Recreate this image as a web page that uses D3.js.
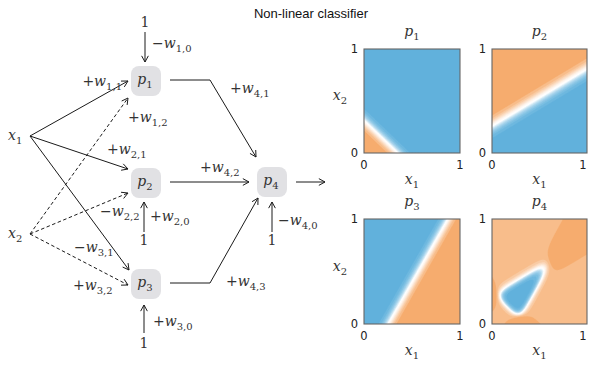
<!DOCTYPE html>
<html>
<head>
<meta charset="utf-8">
<script src="https://cdn.jsdelivr.net/npm/d3@7"></script>
<style>
  html, body { margin: 0; padding: 0; background: #fff; }
  svg { display: block; }
</style>
</head>
<body>
<svg id="chart" width="589" height="366"></svg>
<script>
// Network weights: [bias, x1, x2] for hidden units, [bias, p1, p2, p3] for the output unit
const w1 = [-9.0, 24.75, 27.9];
const w2 = [6.75, 14.85, -27.0];
const w3 = [7.65, -31.5, 19.6];
const w4 = [-16.8, 7.0, 7.0, 7.0];

const unitNames = ["1", "2", "3", "4"];
const tickValues = [0, 1];
const bandCount = 20;

const sigmoid = z => 1 / (1 + Math.exp(-z));
const hidden = (w, a, b) => sigmoid(w[0] + w[1] * a + w[2] * b);
const units = [
  (a, b) => hidden(w1, a, b),
  (a, b) => hidden(w2, a, b),
  (a, b) => hidden(w3, a, b),
  (a, b) => sigmoid(w4[0] + w4[1] * hidden(w1, a, b) + w4[2] * hidden(w2, a, b) + w4[3] * hidden(w3, a, b))
];

const svg = d3.select("#chart");
const ink = "#1a1a1a";
const mathFont = "DejaVu Serif, serif";

// Diverging colour on a normalised value t in [0,1]: orange -> white -> blue
const toOrange = d3.interpolateRgb("#ffffff", "#f5a35e");
const toBlue = d3.interpolateRgb("#ffffff", "#5aaedb");
function colour(t) {
  if (t < 0.5) return toOrange(Math.pow((0.5 - t) / 0.5, 2.0));
  return toBlue(Math.pow((t - 0.5) / 0.5, 0.8));
}

// ---------- math-style text ----------
function mathLabel(x, y, sign, base, sub, anchor) {
  const t = svg.append("text")
    .attr("x", x).attr("y", y)
    .attr("font-family", mathFont)
    .attr("font-size", 14)
    .attr("fill", "#333")
    .attr("text-anchor", anchor || "start");
  if (sign) t.append("tspan").text(sign);
  t.append("tspan").attr("font-style", "italic").text(base);
  if (sub) t.append("tspan").attr("font-size", 10).attr("dy", 4).text(sub);
  return t;
}

// ---------- arrows ----------
function head(x1, y1, x2, y2) {
  const ang = Math.atan2(y2 - y1, x2 - x1);
  const L = 7, A = 0.5;
  const p = [
    [x2 - L * Math.cos(ang - A), y2 - L * Math.sin(ang - A)],
    [x2, y2],
    [x2 - L * Math.cos(ang + A), y2 - L * Math.sin(ang + A)]
  ];
  svg.append("path")
    .attr("d", d3.line()(p))
    .attr("fill", "none").attr("stroke", ink).attr("stroke-width", 1)
    .attr("stroke-linejoin", "round");
}
function arrow(pts, dashed) {
  svg.append("path")
    .attr("d", d3.line()(pts))
    .attr("fill", "none").attr("stroke", ink).attr("stroke-width", 1)
    .attr("stroke-dasharray", dashed ? "3.5,2.5" : null);
  const n = pts.length;
  head(pts[n - 2][0], pts[n - 2][1], pts[n - 1][0], pts[n - 1][1]);
}

// ---------- title ----------
svg.append("text")
  .attr("x", 311).attr("y", 18)
  .attr("text-anchor", "middle")
  .attr("font-family", "Liberation Sans, Arial, sans-serif")
  .attr("font-size", 13).attr("fill", "#111")
  .text("Non-linear classifier");

// ---------- network nodes ----------
const nodes = [
  { id: 0, cx: 146, cy: 81 },
  { id: 1, cx: 146, cy: 183 },
  { id: 2, cx: 146, cy: 284 },
  { id: 3, cx: 272, cy: 182 }
];
const inputs = [
  { name: "1", x: 30, y: 136 },
  { name: "2", x: 30, y: 234 }
];

// input -> hidden connections (x1 solid, x2 dashed)
arrow([[inputs[0].x, inputs[0].y], [128, 81]], false);
arrow([[inputs[0].x, inputs[0].y], [128, 169]], false);
arrow([[inputs[0].x, inputs[0].y], [129, 270]], false);
arrow([[inputs[1].x, inputs[1].y], [128, 98]], true);
arrow([[inputs[1].x, inputs[1].y], [128, 193]], true);
arrow([[inputs[1].x, inputs[1].y], [128, 285]], true);

// hidden -> output connections
arrow([[170, 80], [210, 80], [256, 157]], false);
arrow([[170, 182], [249, 182]], false);
arrow([[170, 283], [210, 283], [258, 198]], false);
arrow([[296, 182], [325, 182]], false);

// bias connections
arrow([[145, 32], [145, 62]], false);
arrow([[144, 232], [144, 202]], false);
arrow([[144, 333], [144, 305]], false);
arrow([[272, 232], [272, 202]], false);

nodes.forEach(n => {
  svg.append("rect")
    .attr("x", n.cx - 15).attr("y", n.cy - 15)
    .attr("width", 30).attr("height", 30)
    .attr("rx", 8).attr("ry", 8)
    .attr("fill", "#e1e1e4");
  mathLabel(n.cx - 1, n.cy + 3, null, "p", unitNames[n.id], "middle");
});

inputs.forEach(inp => mathLabel(8, inp.y + 4, null, "x", inp.name));

// bias "1" labels
[[145, 27], [144, 245], [144, 348], [272, 245]].forEach(([x, y]) => {
  svg.append("text").attr("x", x).attr("y", y)
    .attr("text-anchor", "middle")
    .attr("font-family", mathFont).attr("font-size", 14)
    .attr("fill", "#333").text("1");
});

// weight labels
const minus = "\u2212";
mathLabel(152, 48, minus, "w", "1,0");
mathLabel(122, 86, "+", "w", "1,1", "end");
mathLabel(128, 122, "+", "w", "1,2");
mathLabel(107, 154, "+", "w", "2,1");
mathLabel(100, 216, minus, "w", "2,2");
mathLabel(150, 221, "+", "w", "2,0");
mathLabel(74, 252, minus, "w", "3,1");
mathLabel(73, 290, "+", "w", "3,2");
mathLabel(153, 326, "+", "w", "3,0");
mathLabel(230, 93, "+", "w", "4,1");
mathLabel(200, 172, "+", "w", "4,2");
mathLabel(226, 286, "+", "w", "4,3");
mathLabel(278, 225, minus, "w", "4,0");

// ---------- decision-surface panels ----------
const panels = [
  { unit: 0, x0: 364, y0: 49, w: 96, h: 104, showY: true },
  { unit: 1, x0: 492, y0: 49, w: 95, h: 104, showY: false },
  { unit: 2, x0: 364, y0: 219, w: 96, h: 105, showY: true },
  { unit: 3, x0: 492, y0: 219, w: 95, h: 105, showY: false }
];
const N = 160;

panels.forEach(pn => {
  const xs = d3.scaleLinear().domain([0, 1]).range([pn.x0, pn.x0 + pn.w]);
  const ys = d3.scaleLinear().domain([0, 1]).range([pn.y0 + pn.h, pn.y0]);
  const f = units[pn.unit];

  const grid = new Array(N * N);
  for (let j = 0; j < N; j++) {
    for (let i = 0; i < N; i++) {
      grid[j * N + i] = f((i + 0.5) / N, (j + 0.5) / N);
    }
  }
  // colour range follows the surface's own extent
  const [lo, hi] = d3.extent(grid);
  const norm = d3.scaleLinear().domain([lo, hi]).range([0, 1]);
  const step = (hi - lo) / bandCount;
  const thresholds = d3.range(bandCount).map(k => lo + k * step);
  const bands = d3.contours().size([N, N]).thresholds(thresholds)(grid);
  const proj = d3.geoTransform({
    point: function (gx, gy) { this.stream.point(xs(gx / N), ys(gy / N)); }
  });
  const path = d3.geoPath(proj);
  const fillOf = v => colour(norm(Math.min(hi, v + step / 2)));

  const clipId = "clip" + pn.unit;
  svg.append("clipPath").attr("id", clipId)
    .append("rect").attr("x", pn.x0).attr("y", pn.y0).attr("width", pn.w).attr("height", pn.h);

  const g = svg.append("g").attr("clip-path", `url(#${clipId})`);
  g.append("rect").attr("x", pn.x0).attr("y", pn.y0).attr("width", pn.w).attr("height", pn.h)
    .attr("fill", fillOf(lo));
  g.selectAll("path").data(bands).join("path")
    .attr("d", path)
    .attr("fill", d => fillOf(d.value))
    .attr("stroke", d => fillOf(d.value))
    .attr("stroke-width", 0.3);

  svg.append("rect").attr("x", pn.x0).attr("y", pn.y0).attr("width", pn.w).attr("height", pn.h)
    .attr("fill", "none").attr("stroke", "#666").attr("stroke-width", 1.1);

  // ticks
  const tickFont = "DejaVu Sans, sans-serif";
  tickValues.forEach(v => {
    svg.append("text").attr("x", Math.min(xs(v), 583)).attr("y", pn.y0 + pn.h + 16)
      .attr("text-anchor", "middle").attr("font-family", tickFont)
      .attr("font-size", 11.5).attr("fill", "#222").text(v);
    svg.append("text").attr("x", pn.x0 - 6).attr("y", ys(v) + 4)
      .attr("text-anchor", "end").attr("font-family", tickFont)
      .attr("font-size", 11.5).attr("fill", "#222").text(v);
  });

  // titles and axis names
  mathLabel(pn.x0 + pn.w / 2, pn.y0 - 13, null, "p", unitNames[pn.unit], "middle");
  mathLabel(pn.x0 + pn.w / 2, pn.y0 + pn.h + 31, null, "x", "1", "middle");
  if (pn.showY) mathLabel(340, pn.y0 + pn.h / 2 - 1, null, "x", "2", "middle");
});
</script>
</body>
</html>
